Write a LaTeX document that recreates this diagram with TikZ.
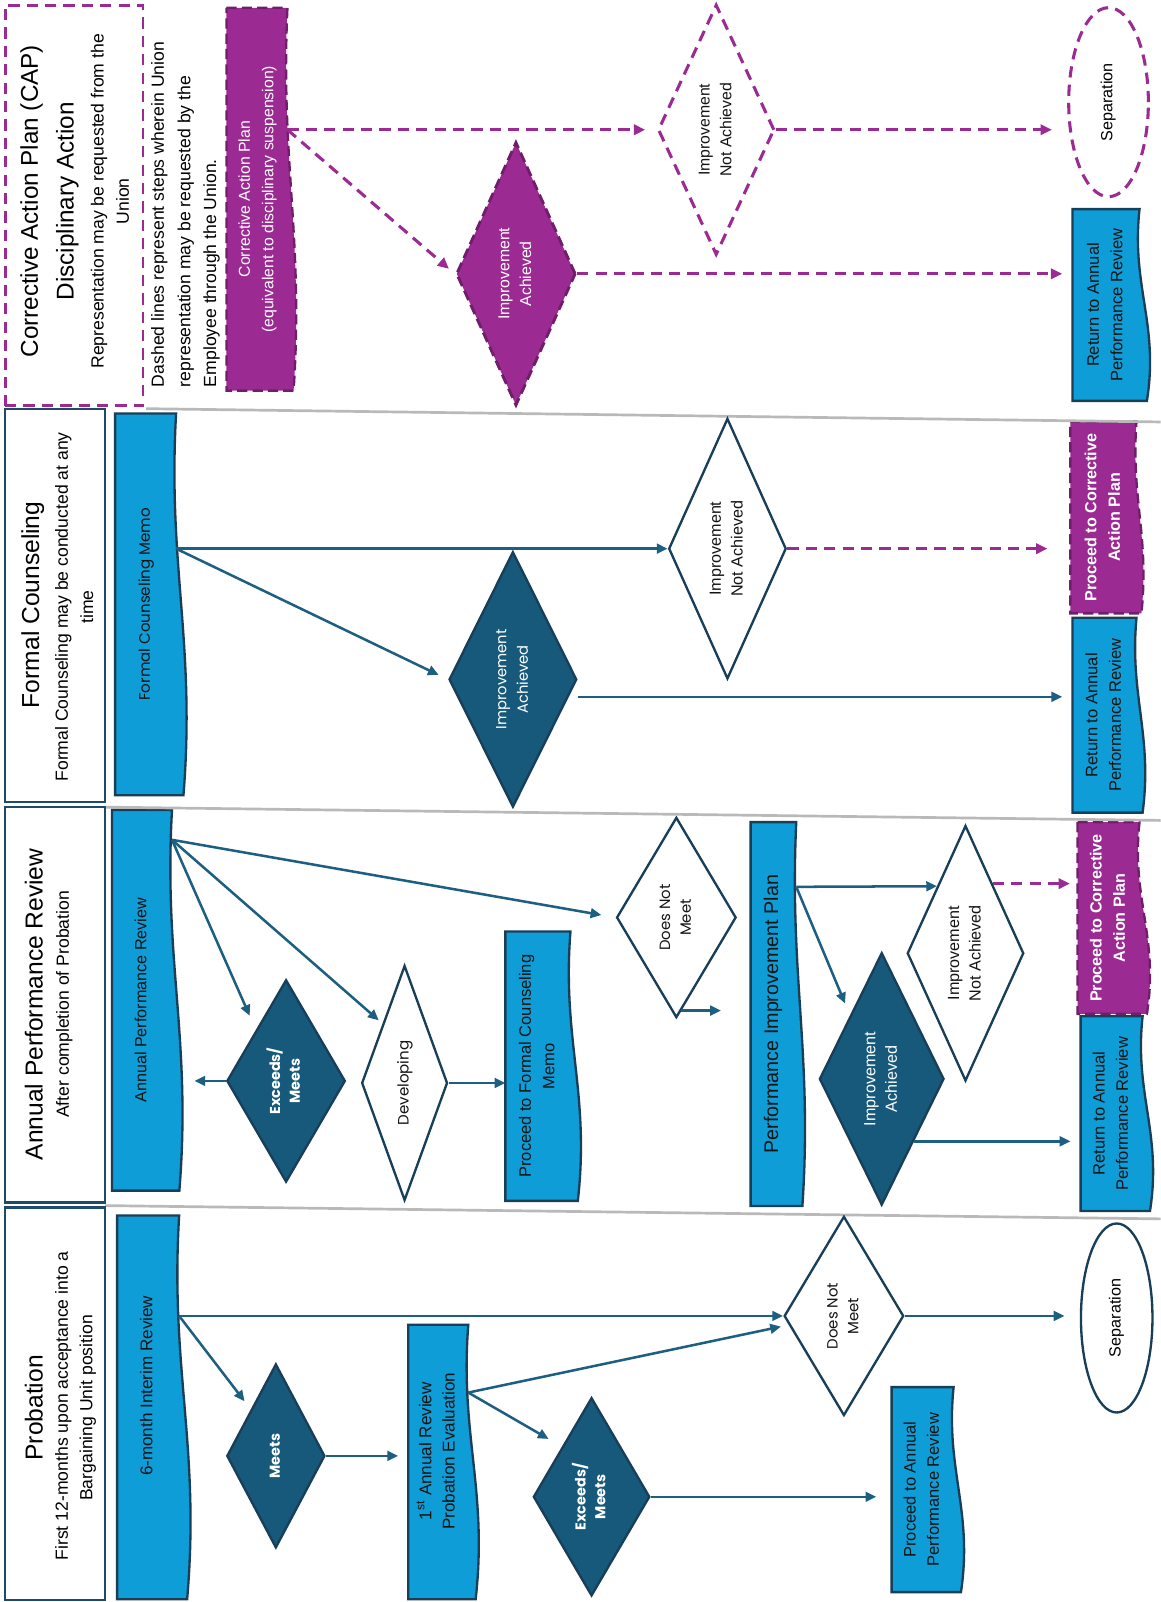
\documentclass[tikz,border=0pt]{standalone}
\usepackage{fontspec}
\setmainfont{Liberation Sans}
\newfontfamily\pop{Poppins}
\usetikzlibrary{shapes.geometric,arrows.meta,calc,backgrounds}
\definecolor{docblue}{RGB}{14,157,214}
\definecolor{navy}{RGB}{24,62,88}
\definecolor{dteal}{RGB}{22,89,122}
\definecolor{arrc}{RGB}{28,95,128}
\definecolor{purp}{RGB}{156,42,147}
\definecolor{dpurp}{RGB}{112,30,106}
\definecolor{sepgray}{RGB}{185,185,185}
\definecolor{hdrc}{RGB}{30,75,105}
\definecolor{txt}{RGB}{20,20,20}
\newcommand\fs[2]{\fontsize{#1}{#2}\selectfont}
\newcommand\rt[2]{\rotatebox{90}{#1\begin{tabular}{@{}c@{}}#2\end{tabular}}}
\newcommand\docshape[3][]{%
  \begin{pgfonlayer}{background}
  \draw[#1] (#2.north west) -- (#2.north east)
   .. controls ($(#2.north east)!0.4!(#2.south east)+(-0.7*#3,0)$)
   and ($(#2.north east)!0.6!(#2.south east)+(1.6*#3,0)$) ..
   ($(#2.south east)+(0.6*#3,0)$) -- (#2.south west) -- cycle;
  \end{pgfonlayer}}
\tikzset{
  sz/.style 2 args={minimum width=#1*0.02cm, minimum height=#2*0.02cm},
  docn/.style={rectangle, inner sep=0pt, text=txt},
  bluedoc/.style={fill=docblue, draw=navy, line width=1.3pt},
  purpdoc/.style={fill=purp, draw=dpurp, line width=1.3pt, dash pattern=on 0.2cm off 0.1cm},
  dia/.style={diamond, aspect=0.45, inner sep=0pt},
  darkdia/.style={dia, fill=dteal, draw=navy, line width=1.3pt, text=white},
  whitedia/.style={dia, fill=white, draw=navy, line width=1.3pt, text=txt},
  hdr/.style={rectangle, draw=hdrc, line width=1.3pt, inner sep=0pt},
  arr/.style={draw=arrc, line width=1.4pt, -{Triangle[length=0.21cm,width=0.19cm]}},
  darr/.style={draw=purp, line width=1.7pt, dash pattern=on 0.22cm off 0.14cm, -{Triangle[length=0.22cm,width=0.2cm]}},
  sepline/.style={draw=sepgray, line width=1.5pt},
}
\begin{document}
\begin{tikzpicture}[x=0.02cm, y=-0.02cm]
\useasboundingbox (0,0) rectangle (1136,1568);
\begin{pgfonlayer}{background}
\fill[white] (0,0) rectangle (1136,1568);
\end{pgfonlayer}

% lane separators
\draw[sepline] (143,400) -- (1136,413);
\draw[sepline] (103,790) -- (1136,803);
\draw[sepline] (103,1180) -- (1136,1193);

% ---------------- headers
\node[hdr, draw=purp, dashed, dash pattern=on 0.22cm off 0.14cm, line width=1.6pt, sz={135}{392}] (caph) at (72.5,201) {};
\node[rotate=90, font=\fs{13.5}{16}] (capt1) at (31,197) {Corrective Action Plan (CAP)};
\node[rotate=90, font=\fs{13.5}{16}] (capt2) at (66,197) {Disciplinary Action};
\node[rotate=90, font=\fs{9.8}{12}] (capt3) at (97,197) {Representation may be requested from the};
\node[rotate=90, font=\fs{9.8}{12}] (capt4) at (120,197) {Union};
\node[rotate=90, anchor=west, font=\fs{9.8}{12}] (leg1) at (156,385) {Dashed lines represent steps wherein Union};
\node[rotate=90, anchor=west, font=\fs{9.8}{12}] (leg2) at (182,385) {representation may be requested by the};
\node[rotate=90, anchor=west, font=\fs{9.8}{12}] (leg3) at (207,385) {Employee through the Union.};

\node[hdr, sz={98}{385}] (fch) at (54,592.5) {};
\node[rotate=90, font=\fs{13.7}{16}] (fct1) at (32,592) {Formal Counseling};
\node[rotate=90, font=\fs{9.8}{12}] (fct2) at (62,594) {Formal Counseling may be conducted at any};
\node[rotate=90, font=\fs{9.8}{12}] (fct3) at (85,594) {time};

\node[hdr, sz={98}{387}] (anh) at (54,983.5) {};
\node[rotate=90, font=\fs{13.7}{16}] (ant1) at (33,983) {Annual Performance Review};
\node[rotate=90, font=\fs{9.8}{12}] (ant2) at (63,983) {After completion of Probation};

\node[hdr, sz={98}{384}] (prh) at (54,1374) {};
\node[rotate=90, font=\fs{13.7}{16}] (prt1) at (33,1378) {Probation};
\node[rotate=90, font=\fs{9.8}{12}] (prt2) at (62,1376) {First 12-months upon acceptance into a};
\node[rotate=90, font=\fs{9.8}{12}] (prt3) at (86,1378) {Bargaining Unit position};

% ---------------- document nodes
\node[docn, sz={59}{374}, text=white] (capdoc) at (251.5,195) {\rt{\fs{8.8}{13}}{Corrective Action Plan\\(equivalent to disciplinary suspension)}};
\node[docn, sz={65}{187}] (caprt) at (1082.5,298.5) {\rt{\fs{9.2}{13}}{Return to Annual\\Performance Review}};
\node[docn, sz={59}{373}] (fcm) at (142.5,591.5) {\rt{\pop\fs{8.4}{12}}{Formal Counseling Memo}};
\node[docn, sz={64}{187}, text=white] (fccap) at (1080,506.5) {\rt{\bfseries\fs{9}{13}}{Proceed to Corrective\\Action Plan}};
\node[docn, sz={62}{190}] (fcrt) at (1081,700) {\rt{\fs{9.2}{13}}{Return to Annual\\Performance Review}};
\node[docn, sz={58}{372}] (apr) at (139,979) {\rt{\fs{9}{12}}{Annual Performance Review}};
\node[docn, sz={63}{263}] (pfcm) at (526.5,1043.5) {\rt{\fs{9.2}{13}}{Proceed to Formal Counseling\\Memo}};
\node[docn, sz={44}{375}] (pip) at (757,992.5) {\rt{\fs{11}{13}}{Performance Improvement Plan}};
\node[docn, sz={60}{187}, text=white] (apcap) at (1085,898.5) {\rt{\bfseries\fs{9}{13}}{Proceed to Corrective\\Action Plan}};
\node[docn, sz={60}{190}] (aprt) at (1088,1090) {\rt{\fs{9.2}{13}}{Return to Annual\\Performance Review}};
\node[docn, sz={60}{375}] (six) at (145,1377.5) {\rt{\fs{9.5}{12}}{\hspace*{24pt}6-month Interim Review}};
\node[docn, sz={58}{268}] (first) at (429,1431) {\rt{\fs{9.5}{13}}{\hspace*{12pt}1\textsuperscript{st} Annual Review\\\hspace*{12pt}Probation Evaluation}};
\node[docn, sz={60}{200}] (ppar) at (903,1458) {\rt{\fs{9.2}{13}}{Proceed to Annual\\Performance Review}};

\docshape[purpdoc]{capdoc}{10}
\docshape[bluedoc]{caprt}{12}
\docshape[bluedoc]{fcm}{12}
\docshape[purpdoc]{fccap}{8}
\docshape[bluedoc]{fcrt}{10}
\docshape[bluedoc]{apr}{12}
\docshape[bluedoc]{pfcm}{12}
\docshape[bluedoc]{pip}{10}
\docshape[purpdoc]{apcap}{12}
\docshape[bluedoc]{aprt}{12}
\docshape[bluedoc]{six}{13}
\docshape[bluedoc]{first}{12}
\docshape[bluedoc]{ppar}{12}

% ---------------- diamonds
\node[dia, fill=purp, draw=dpurp, line width=1.6pt, dash pattern=on 0.2cm off 0.1cm, text=white, sz={117}{258}] (capia) at (505,268) {\rt{\fs{8.8}{12}}{Improvement\\Achieved}};
\node[dia, fill=white, draw=purp, line width=1.7pt, dash pattern=on 0.22cm off 0.14cm, text=txt, sz={114}{245}] (capina) at (701,127) {\rt{\fs{8.8}{12}}{Improvement\\Not Achieved}};
\node[darkdia, sz={125}{250}] (fcia) at (502,665) {\rt{\pop\fs{8.2}{12}}{Improvement\\Achieved}};
\node[whitedia, sz={115}{255}] (fcina) at (712,537) {\rt{\fs{9}{12}}{Improvement\\Not Achieved}};
\node[darkdia, sz={116}{198}] (aem) at (280,1058) {\rt{\pop\bfseries\fs{8}{11}}{Exceeds/\\Meets}};
\node[whitedia, sz={84}{230}] (adev) at (396,1060) {\rt{\pop\fs{8.4}{11}}{Developing}};
\node[whitedia, sz={117}{196}] (adnm) at (662,898) {\rt{\pop\fs{8.3}{11.5}}{Does Not\\Meet}};
\node[darkdia, sz={122}{247}] (aia) at (863,1056) {\rt{\fs{9}{12}}{Improvement\\Achieved}};
\node[whitedia, sz={114}{250}] (aina) at (945,933) {\rt{\fs{9}{12}}{Improvement\\Not Achieved}};
\node[darkdia, sz={96}{180}] (pmeets) at (270,1425) {\rt{\pop\bfseries\fs{8}{11}}{Meets}};
\node[darkdia, sz={114}{194}] (pem) at (579,1465) {\rt{\pop\bfseries\fs{8}{11}}{Exceeds/\\Meets}};
\node[whitedia, sz={117}{195}] (pdnm) at (826,1288) {\rt{\pop\fs{8.3}{11.5}}{Does Not\\Meet}};

% ---------------- ellipses
\node[ellipse, draw=purp, line width=1.7pt, dash pattern=on 0.22cm off 0.14cm, inner sep=0pt, sz={78}{185}] (capsep) at (1085,100) {\rt{\fs{9}{11}}{Separation}};
\node[ellipse, draw=navy, line width=1.3pt, inner sep=0pt, sz={70}{185}] (psep) at (1093,1290) {\rt{\fs{9}{11}}{Separation}};

% ---------------- connectors: CAP lane
\draw[darr, shorten >=0.22cm] (capdoc.east |- capina.west) -- (capina.west);
\draw[darr, shorten >=0.15cm] (capdoc.east |- capina.west) -- (capia.west);
\draw[darr, shorten >=0.3cm] (capina.east) -- (capina.east -| capsep.west);
\draw[darr, shorten >=0.2cm] (capia.east) -- (capia.east -| caprt.west);

% FC lane
\draw[arr] (fcm.east |- fcina.west) -- (fcina.west);
\draw[arr, shorten >=0.2cm] (fcm.east |- fcina.west) -- (fcia.west);
\draw[darr, shorten >=0.45cm] (fcina.east) -- (fcina.east -| fccap.west);
\draw[arr, shorten >=0.2cm] (fcia.east |- 0,682) -- (fcrt.west |- 0,682);

% Annual lane
\draw[arr, shorten >=0.28cm] (apr.east |- 0,822) -- (adnm.west);
\draw[arr, shorten >=0.1cm] (apr.east |- 0,822) -- (adev.north west);
\draw[arr, shorten >=0.3cm] (apr.east |- 0,822) -- (aem.north west);
\draw[arr, shorten >=0.44cm] (aem.west) -- (aem.west -| apr.east);
\draw[arr] (adev.east) -- (adev.east -| pfcm.west);
\draw[arr] ($(adnm.south)+(5,-8)$) -- ($(adnm.south -| pip.west)+(-29,-8)$);
\draw[arr] (pip.east |- 0,868) -- ($(aina.west)!0.52!(aina.north)$);
\draw[arr, shorten >=0.25cm] (pip.east |- 0,868) -- (aia.north west);
\coordinate (ainao) at ($(aina.north)!0.46!(aina.east)$);
\draw[darr, shorten >=0.15cm] (ainao) -- (ainao -| apcap.west);
\coordinate (aiao) at ($(aia.east)!0.49!(aia.south)$);
\draw[arr, shorten >=0.2cm] (aiao) -- (aiao -| aprt.west);

% Probation lane
\draw[arr] (six.east |- pdnm.west) -- (pdnm.west);
\draw[arr, shorten >=0.2cm] (six.east |- pdnm.west) -- (pmeets.north west);
\draw[arr, shorten >=0.2cm] (pmeets.east) -- (pmeets.east -| first.west);
\draw[arr, shorten >=0.15cm] (first.east |- 0,1363) -- ($(pdnm.west)!0.09!(pdnm.south)$);
\draw[arr, shorten >=0.3cm] (first.east |- 0,1363) -- (pem.north west);
\draw[arr, shorten >=0.3cm] (pem.east) -- (pem.east -| ppar.west);
\draw[arr, shorten >=0.3cm] (pdnm.east) -- (pdnm.east -| psep.west);
\end{tikzpicture}
\end{document}
